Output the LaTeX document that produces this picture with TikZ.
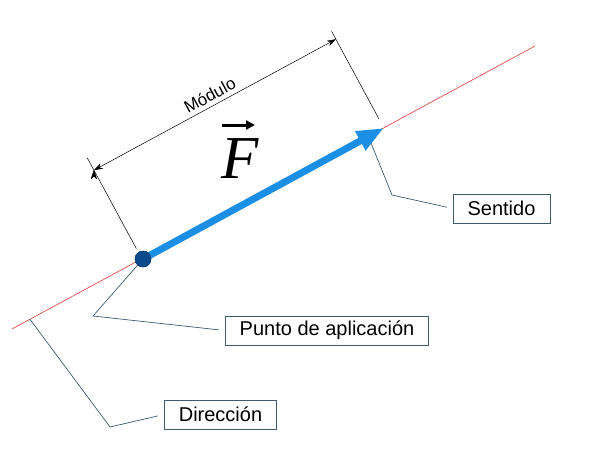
\documentclass[tikz,border=0pt]{standalone}
\usepackage{fontspec}
\setmainfont{Liberation Sans}
\newfontfamily\serifF{Liberation Serif}
\usetikzlibrary{arrows.meta}
\definecolor{fuerza}{RGB}{27,143,229}
\definecolor{punto}{RGB}{12,74,140}
\definecolor{recta}{RGB}{220,60,50}
\definecolor{marco}{RGB}{62,90,110}

\begin{document}
\begin{tikzpicture}[x=1pt,y=-1pt,
	etiqueta/.style={rectangle,draw=marco,line width=0.8pt,minimum height=29pt,
		inner xsep=14.5pt,font=\fontsize{20}{24}\selectfont},
	guia/.style={draw=marco,line width=0.7pt,shorten >=6pt},
	cota/.style={draw=black,line width=0.5pt}]
	\useasboundingbox (0,0) rectangle (593,466);

		% recta de accion
		\coordinate (r1) at (12,329);
		\coordinate (r2) at (535,46);
		\draw[recta,line width=0.6pt] (r1) -- (r2);

		% cotas del modulo
		\coordinate (c1) at (136.3,248.5);
		\coordinate (c2) at (87.3,157.9);
		\coordinate (c3) at (379,119);
		\coordinate (c4) at (331.6,31.3);
		\draw[cota] (c1) -- (c2);
		\draw[cota] (c3) -- (c4);
		\coordinate (m1) at (93.9,170.2);
		\coordinate (m2) at (335.9,39.2);
		\path[cota,{Stealth[length=9pt,width=6pt]}-{Stealth[length=9pt,width=6pt]}] (m1) edge node[midway,above=1pt,sloped,font=\fontsize{17}{20}\selectfont]
			{Módulo} (m2);

		% vector
		\node[circle,fill=punto,draw=punto!80!black,minimum size=16pt,inner sep=0pt] (p) at (143,259) {};
		\coordinate (tip) at (384,128);
		\draw[fuerza,line width=7pt,-{Triangle[length=27pt,width=20pt]}] (p.center) -- (tip);
		\node[circle,fill=punto,draw=punto!80!black,minimum size=16pt,inner sep=0pt] at (p) {};
		\node[anchor=base,inner sep=0pt] (fvec) at (240,178) {\fontsize{61}{64}\serifF\itshape F};
		\coordinate (v1) at (222,125);
		\coordinate (v2) at (255,125);
		\draw[black,line width=3pt,-{Triangle[length=9pt,width=9pt]}] (v1) -- (v2);

		% etiquetas
		\node[etiqueta] (sent) at (501.5,208.5) {Sentido};
		\node[etiqueta] (apl) at (327,330.5) {Punto de aplicación};
		\node[etiqueta] (dir) at (220.5,414.5) {Dirección};

		\coordinate (s0) at (371,143);
		\coordinate (s1) at (392,195);
		\coordinate (a1) at (93,316);
		\coordinate (d0) at (30,319.3);
		\coordinate (d1) at (110,427);
		\draw[guia] (s0) -- (s1) -- (sent.west);
		\draw[guia] (p) -- (a1) -- (apl.west);
		\draw[guia] (d0) -- (d1) -- (dir.west);
	\end{tikzpicture}
\end{document}
